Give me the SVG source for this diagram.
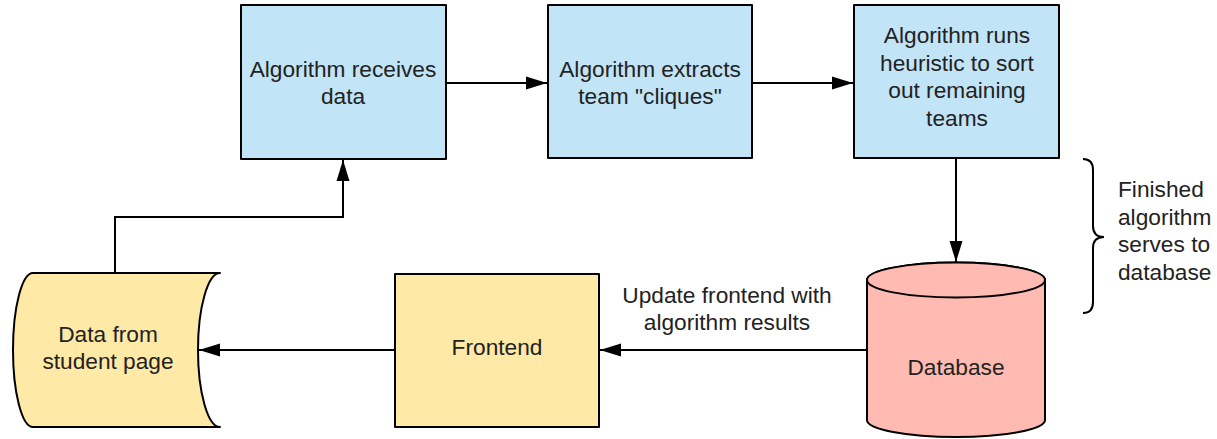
<svg xmlns="http://www.w3.org/2000/svg" width="1217" height="439" viewBox="0 0 1217 439">
  <style>
    .shape { stroke: #000; stroke-width: 2; stroke-linejoin: round; }
    .process { fill: #c1e4f7; }
    .note { fill: #ffe9a6; }
    .store { fill: #ffbbb1; }
    .lbl { font-family: "Liberation Sans", Arial, sans-serif; font-size: 22.7px; fill: #222; text-anchor: middle; }
    .side { text-anchor: start; }
    .wire { fill: none; stroke: #000; stroke-width: 2; }
  </style>
  <defs>
    <marker id="arrow" markerUnits="userSpaceOnUse" markerWidth="22" markerHeight="14" refX="21" refY="7" orient="auto">
      <path d="M0,0.5 L21,7 L0,13.5 Z" fill="#000"/>
    </marker>
  </defs>

  <rect width="1217" height="439" fill="#fff"/>

  <!-- connectors -->
  <g id="connectors">
    <path class="wire" d="M446,83 H547" marker-end="url(#arrow)"/>
    <path class="wire" d="M752,83 H853" marker-end="url(#arrow)"/>
    <path class="wire" d="M956,158 V262" marker-end="url(#arrow)"/>
    <path class="wire" d="M867,350 H600" marker-end="url(#arrow)"/>
    <path class="wire" d="M395,350 H199" marker-end="url(#arrow)"/>
    <path class="wire" d="M115,273 V217 H343 V160" marker-end="url(#arrow)"/>
    <text class="lbl" x="727" y="303">Update frontend with</text>
    <text class="lbl" x="727" y="330">algorithm results</text>
  </g>

  <!-- algorithm steps -->
  <g id="receive">
    <rect class="shape process" x="241" y="5" width="205" height="154"/>
    <text class="lbl" x="343" y="77">Algorithm receives</text>
    <text class="lbl" x="343" y="104">data</text>
  </g>
  <g id="extract">
    <rect class="shape process" x="548" y="5" width="204" height="153"/>
    <text class="lbl" x="650" y="77">Algorithm extracts</text>
    <text class="lbl" x="650" y="104">team "cliques"</text>
  </g>
  <g id="heuristic">
    <rect class="shape process" x="854" y="5" width="205" height="153"/>
    <text class="lbl" x="957" y="43">Algorithm runs</text>
    <text class="lbl" x="957" y="71">heuristic to sort</text>
    <text class="lbl" x="957" y="98">out remaining</text>
    <text class="lbl" x="957" y="126">teams</text>
  </g>

  <!-- database cylinder -->
  <g id="database">
    <path class="shape store" d="M867,280 V420 A89,17 0 0 0 1045,420 V280 A89,17.5 0 0 0 867,280 Z"/>
    <ellipse class="shape store" cx="956" cy="280" rx="89" ry="17.5"/>
    <text class="lbl" x="956" y="375">Database</text>
  </g>

  <!-- brace annotation -->
  <g id="brace-note">
    <path class="wire" d="M1083,159 Q1093,159 1093,170 V226 Q1093,237 1104,237 Q1093,237 1093,248 V302 Q1093,313 1083,313"/>
    <text class="lbl side" x="1118" y="197">Finished</text>
    <text class="lbl side" x="1118" y="224.5">algorithm</text>
    <text class="lbl side" x="1118" y="252">serves to</text>
    <text class="lbl side" x="1118" y="279.5">database</text>
  </g>

  <!-- frontend -->
  <g id="frontend">
    <rect class="shape note" x="395" y="274" width="204" height="153"/>
    <text class="lbl" x="497" y="355">Frontend</text>
  </g>

  <!-- stored data from student page -->
  <g id="student-data">
    <path class="shape note" d="M33,273 H220 A22,77 0 0 0 220,427 H33 A20,77 0 0 1 33,273 Z"/>
    <text class="lbl" x="108" y="342">Data from</text>
    <text class="lbl" x="108" y="369">student page</text>
  </g>
</svg>
